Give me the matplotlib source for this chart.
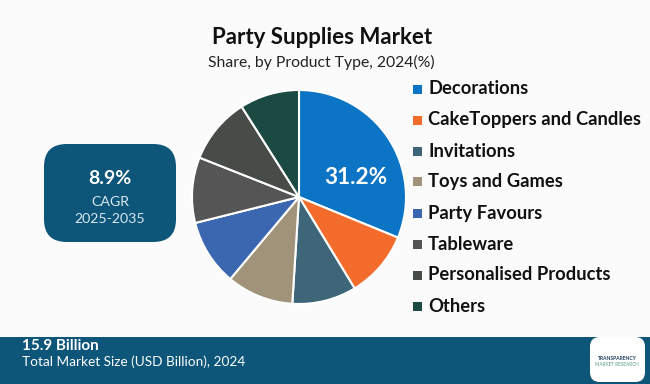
import matplotlib.pyplot as plt
from matplotlib.patches import FancyBboxPatch, Rectangle

# data
categories = ['Decorations', 'CakeToppers and Candles', 'Invitations', 'Toys and Games',
              'Party Favours', 'Tableware', 'Personalised Products', 'Others']
shares = [31.2, 10.1, 9.7, 10.1, 10.0, 9.9, 10.0, 9.0]
colors = ['#0B74C4', '#F36C2C', '#3F6678', '#A0937A', '#3A67B0', '#555555', '#474C48', '#1B4A42']

W, H = 650, 384
bg = '#FBFBFB'
navy = '#0D5579'
plt.rcParams['font.family'] = ['Lato', 'DejaVu Sans']

fig = plt.figure(figsize=(W / 100, H / 100), dpi=100, facecolor=bg)


def fx(x):
    return x / W


def fy(y):
    return 1 - y / H


# titles
fig.text(fx(322), fy(37), 'Party Supplies Market', ha='center', va='center',
         fontsize=16, fontweight='bold', color='#111111')
fig.text(fx(321), fy(62), 'Share, by Product Type, 2024(%)', ha='center', va='center',
         fontsize=11.3, color='#222222')

# pie
cx, cy, r = 299, 197, 107
ax = fig.add_axes([fx(cx - r), fy(cy + r), 2 * r / W, 2 * r / H])
ax.pie(shares, colors=colors, startangle=90, counterclock=False,
       wedgeprops=dict(edgecolor='white', linewidth=1.5))
ax.set_xlim(-1, 1)
ax.set_ylim(-1, 1)
ax.set_aspect('auto')
ax.axis('off')
fig.text(fx(356), fy(177), f'{shares[0]}%', ha='center', va='center',
         fontsize=16.3, fontweight='bold', color='white')

# legend
for i, (cat, col) in enumerate(zip(categories, colors)):
    y = 89 + i * 31
    fig.patches.append(Rectangle((fx(413), fy(y + 4.5)), 9 / W, 9 / H,
                                 transform=fig.transFigure, facecolor=col, edgecolor='none'))
    fig.text(fx(428), fy(y), cat, ha='left', va='center',
             fontsize=13.2, fontweight='bold', color='#111111')

# CAGR box
fig.patches.append(FancyBboxPatch((fx(44), fy(242)), 132 / W, 98 / H,
                                  boxstyle='round,pad=0,rounding_size=0.035',
                                  transform=fig.transFigure, facecolor=navy, edgecolor='none',
                                  mutation_aspect=W / H))
fig.text(fx(110), fy(178), '8.9%', ha='center', va='center',
         fontsize=14, fontweight='bold', color='white')
fig.text(fx(110), fy(202), 'CAGR', ha='center', va='center', fontsize=10.2, color='#D8E8F0')
fig.text(fx(110), fy(219), '2025-2035', ha='center', va='center', fontsize=10.2, color='#D8E8F0')

# bottom band
fig.patches.append(Rectangle((0, 0), 1, fy(337), transform=fig.transFigure,
                             facecolor=navy, edgecolor='none'))
fig.text(fx(22), fy(346), '15.9 Billion', ha='left', va='center',
         fontsize=11, fontweight='bold', color='white')
fig.text(fx(22), fy(362), 'Total Market Size (USD Billion), 2024', ha='left', va='center',
         fontsize=9.8, color='white')

# logo
fig.patches.append(FancyBboxPatch((fx(590), fy(382)), 55 / W, 45 / H,
                                  boxstyle='round,pad=0,rounding_size=0.015',
                                  transform=fig.transFigure, facecolor='white', edgecolor='none',
                                  mutation_aspect=W / H))
fig.text(fx(617), fy(358), 'TRANSPARENCY', ha='center', va='center',
         fontsize=3.6, fontweight='bold', color='#1F3F5F')
fig.text(fx(617), fy(365), 'MARKET RESEARCH', ha='center', va='center',
         fontsize=3.4, color='#5A9A8A')

fig.savefig('out.png', dpi=100, facecolor=bg)
